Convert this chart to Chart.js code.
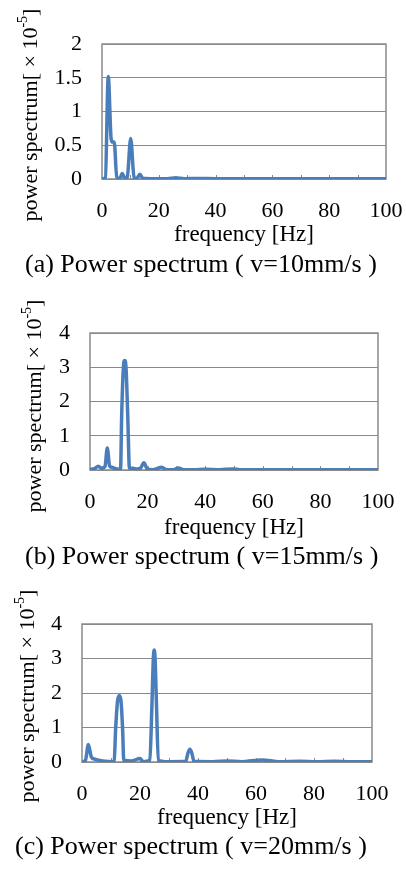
<!DOCTYPE html>
<html>
<head>
<meta charset="utf-8">
<script src="https://cdn.jsdelivr.net/npm/chart.js@4.4.0/dist/chart.umd.min.js"></script>
<style>
  html, body { margin: 0; padding: 0; background: #fff; }
  canvas { display: block; }
</style>
</head>
<body>
<canvas id="chartA" width="406" height="290"></canvas>
<canvas id="chartB" width="406" height="290"></canvas>
<canvas id="chartC" width="406" height="289"></canvas>
<script>
// (a) v=10mm/s
const freqA = [0, 1.2, 2.2, 3.2, 3.6, 4.3, 5.2, 6.3, 7.1, 8.1, 8.9, 10.1, 11.3, 12.3, 13.3, 14.4, 17, 20, 23, 26, 29, 33, 40, 50, 60, 70, 80, 90, 100];
const powerA = [0, 0.02, 1.52, 0.6, 0.55, 0.55, 0.02, 0.01, 0.08, 0.01, 0.03, 0.6, 0.02, 0.01, 0.07, 0.01, 0.005, 0.005, 0.005, 0.02, 0.005, 0.008, 0.004, 0.005, 0.004, 0.005, 0.003, 0.003, 0.003];

// (b) v=15mm/s
const freqB = [0, 1.5, 2.9, 4.0, 5.2, 6.0, 6.8, 7.5, 9.3, 10.6, 11.0, 11.6, 12.05, 12.5, 13.1, 13.7, 15.0, 16.2, 17.5, 18.7, 20.0, 22, 24.9, 26.5, 29, 30.7, 32.5, 36, 40, 45, 49.7, 52, 60, 70, 80, 90, 100];
const powerB = [0.02, 0.04, 0.11, 0.05, 0.1, 0.64, 0.12, 0.08, 0.03, 0.02, 1.6, 3.0, 3.2, 3.0, 1.6, 0.05, 0.05, 0.03, 0.05, 0.21, 0.02, 0.01, 0.08, 0.01, 0.01, 0.06, 0.01, 0.01, 0.02, 0.01, 0.03, 0.01, 0.01, 0.01, 0.01, 0.01, 0.01];

// (c) v=20mm/s
const freqC = [0, 1.2, 2.2, 3.2, 4.5, 6, 8, 10.5, 11.1, 11.6, 12.3, 12.9, 13.4, 14.0, 14.4, 17, 20, 21.1, 23.4, 24.1, 24.6, 24.9, 25.2, 25.7, 26.3, 30, 35.8, 36.5, 37.2, 37.9, 38.6, 45, 50.2, 55, 62.2, 68, 75, 81, 87, 93, 100];
const powerC = [0, 0.05, 0.51, 0.15, 0.08, 0.05, 0.02, 0.01, 0.02, 0.96, 1.8, 1.92, 1.8, 0.96, 0.05, 0.03, 0.1, 0.01, 0.05, 1.62, 3.0, 3.25, 3.0, 1.62, 0.05, 0.01, 0.02, 0.25, 0.37, 0.25, 0.02, 0.01, 0.03, 0.01, 0.06, 0.01, 0.02, 0.01, 0.02, 0.01, 0.01];

const xTicks = [0, 20, 40, 60, 80, 100];
const lineColor = '#4a7ebb';
const gridColor = '#8a8a8a';
const serif = "'Liberation Serif', 'Times New Roman', serif";

// titles, frame and small ticks drawn around the plot
const decor = {
  id: 'decor',
  beforeDatasetsDraw(chart) {
    const { ctx, chartArea: a, scales } = chart;
    ctx.save();
    ctx.strokeStyle = gridColor;
    ctx.lineWidth = 1;
    // small inward ticks every 10 Hz
    for (let f = 10; f < 100; f += 10) {
      const x = Math.round(scales.x.getPixelForValue(f)) + 0.5;
      ctx.beginPath();
      ctx.moveTo(x, a.bottom);
      ctx.lineTo(x, a.bottom - 4);
      ctx.stroke();
    }
    ctx.lineWidth = 1.5;
    ctx.strokeRect(Math.round(a.left), Math.round(a.top), Math.round(a.right - a.left), Math.round(a.bottom - a.top));
    ctx.restore();
  },
  afterDraw(chart, args, o) {
    const { ctx, chartArea: a } = chart;
    ctx.save();
    ctx.fillStyle = '#000';
    ctx.textBaseline = 'middle';

    // x title
    ctx.font = '23px ' + serif;
    ctx.textAlign = 'center';
    ctx.fillText('frequency [Hz]', (a.left + a.right) / 2, o.xTitleY);

    // caption
    ctx.font = '26px ' + serif;
    ctx.textAlign = 'left';
    ctx.fillText(o.caption, o.captionX, o.captionY);

    // y title with superscript
    const main = 'power spectrum[ \u00d7 10', sup = '-5', end = ']';
    ctx.translate(o.yTitleX, o.yTitleY);
    ctx.rotate(-Math.PI / 2);
    ctx.font = '22px ' + serif;
    const w1 = ctx.measureText(main).width;
    const w3 = ctx.measureText(end).width;
    ctx.font = '14px ' + serif;
    const w2 = ctx.measureText(sup).width;
    let x = -(w1 + w2 + w3) / 2;
    ctx.font = '22px ' + serif;
    ctx.fillText(main, x, 0);
    x += w1;
    ctx.font = '14px ' + serif;
    ctx.fillText(sup, x, -8);
    x += w2;
    ctx.font = '22px ' + serif;
    ctx.fillText(end, x, 0);
    ctx.restore();
  }
};

function makeChart(id, freq, power, box) {
  const points = freq.map((f, i) => ({ x: f, y: power[i] }));
  return new Chart(document.getElementById(id), {
    type: 'line',
    data: {
      datasets: [{
        data: points,
        borderColor: lineColor,
        borderWidth: 3.5,
        pointRadius: 0,
        cubicInterpolationMode: 'monotone',
        fill: false
      }]
    },
    options: {
      responsive: false,
      animation: false,
      layout: { padding: { left: 0, top: box.top, right: box.right, bottom: 0 } },
      plugins: {
        legend: { display: false },
        tooltip: { enabled: false },
        decor: box.decor
      },
      scales: {
        x: {
          type: 'linear',
          min: 0,
          max: 100,
          afterBuildTicks: s => { s.ticks = xTicks.map(v => ({ value: v })); },
          grid: { display: false },
          border: { display: false },
          ticks: { color: '#000', padding: 11, maxRotation: 0, font: { family: serif, size: 22 } },
          afterFit: s => { s.height = box.xHeight; s.paddingLeft = 0; s.paddingRight = 0; }
        },
        y: {
          min: 0,
          max: box.yMax,
          ticks: { stepSize: box.yStep, color: '#000', padding: 20, font: { family: serif, size: 22 }, callback: v => String(v) },
          grid: { color: gridColor, lineWidth: 1, drawTicks: false },
          border: { display: false },
          afterFit: s => { s.width = box.left; s.paddingTop = 0; s.paddingBottom = 0; }
        }
      }
    },
    plugins: [decor]
  });
}

makeChart('chartA', freqA, powerA, {
  left: 102, right: 20, top: 44, xHeight: 111, yMax: 2, yStep: 0.5,
  decor: { caption: '(a) Power spectrum ( v=10mm/s )', captionX: 25, captionY: 265, xTitleY: 235, yTitleX: 31, yTitleY: 115 }
});
makeChart('chartB', freqB, powerB, {
  left: 90, right: 28, top: 43, xHeight: 110, yMax: 4, yStep: 1,
  decor: { caption: '(b) Power spectrum ( v=15mm/s )', captionX: 25, captionY: 267, xTitleY: 238, yTitleX: 35, yTitleY: 116 }
});
makeChart('chartC', freqC, powerC, {
  left: 82, right: 34, top: 44, xHeight: 107, yMax: 4, yStep: 1,
  decor: { caption: '(c) Power spectrum ( v=20mm/s )', captionX: 15, captionY: 267, xTitleY: 238, yTitleX: 28, yTitleY: 116 }
});
</script>
</body>
</html>
